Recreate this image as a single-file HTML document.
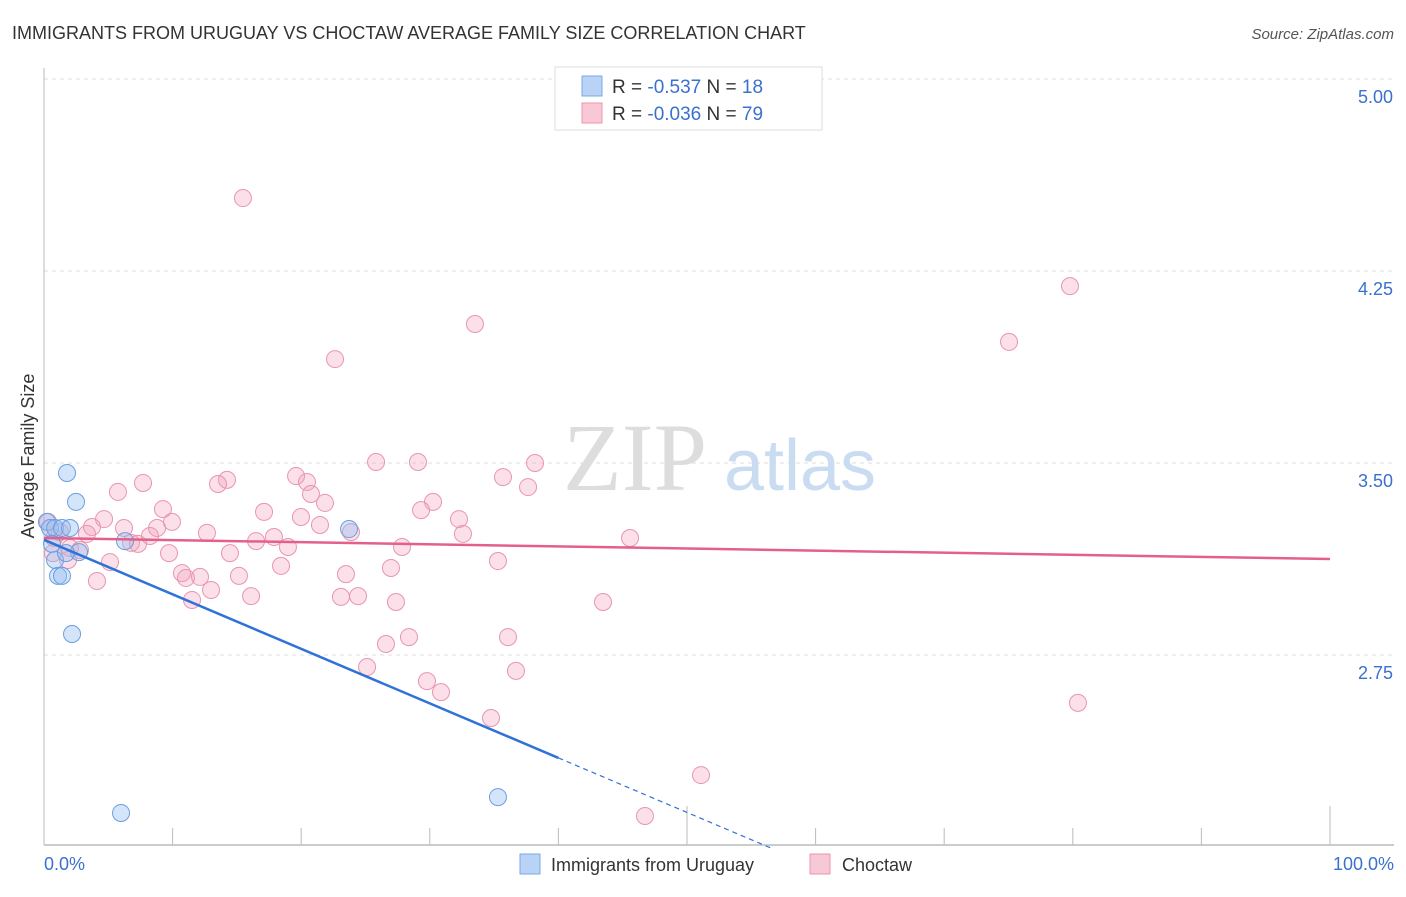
<!DOCTYPE html>
<html><head><meta charset="utf-8">
<style>
body{margin:0;background:#fff;font-family:"Liberation Sans",sans-serif;}
</style></head>
<body>
<svg width="1406" height="892" viewBox="0 0 1406 892" xmlns="http://www.w3.org/2000/svg">
<text x="12" y="39" font-size="18" fill="#333">IMMIGRANTS FROM URUGUAY VS CHOCTAW AVERAGE FAMILY SIZE CORRELATION CHART</text>
<text x="1394" y="39" font-size="15" fill="#555" font-style="italic" text-anchor="end">Source: ZipAtlas.com</text>
<g id="grid"></g>
<g>
<text x="635" y="490" font-size="96" font-family="Liberation Serif,serif" fill="#ddd" text-anchor="middle">ZIP</text>
<text x="800" y="490" font-size="72" fill="#c9dcf2" text-anchor="middle">atlas</text>
</g>
<g id="axes"></g>
<g id="pts"></g>
<g id="trends"></g>
<text transform="translate(34,456) rotate(-90)" font-size="18" fill="#333" text-anchor="middle">Average Family Size</text>
<g>
<rect x="555" y="67" width="267" height="63" fill="#fff" stroke="#ddd"/>
<rect x="582" y="76" width="20" height="20" fill="#b8d3f5" stroke="#7aa8e6"/>
<rect x="582" y="103" width="20" height="20" fill="#f9c8d6" stroke="#ea94ae"/>
<text x="612" y="93" font-size="19" fill="#333">R = <tspan fill="#3a70d0">-0.537</tspan>   N = <tspan fill="#3a70d0">18</tspan></text>
<text x="612" y="120" font-size="19" fill="#333">R = <tspan fill="#3a70d0">-0.036</tspan>   N = <tspan fill="#3a70d0">79</tspan></text>
</g>
<g>
<rect x="520" y="854" width="20" height="20" fill="#b8d3f5" stroke="#7aa8e6"/>
<text x="551" y="871" font-size="18" fill="#333">Immigrants from Uruguay</text>
<rect x="810" y="854" width="20" height="20" fill="#f9c8d6" stroke="#ea94ae"/>
<text x="842" y="871" font-size="18" fill="#333">Choctaw</text>
</g>
<script>
const yTicks=[2.75,3.50,4.25,5.00];
const yTickLabels=["2.75","3.50","4.25","5.00"];
const blueX=[0.23,0.47,0.86,1.40,0.62,0.86,1.09,1.40,1.79,2.49,2.02,2.72,2.18,1.71,6.30,5.99,23.72,35.30];
const blueY=[3.27,3.246,3.246,3.246,3.184,3.121,3.059,3.059,3.461,3.348,3.246,3.152,2.832,3.148,3.195,2.133,3.242,2.195];
const pinkX=[15.47,79.78,33.51,75.04,22.63,25.82,29.08,38.18,35.69,37.64,19.60,20.45,14.23,13.53,7.70,5.75,20.76,21.85,30.25,29.32,9.25,17.11,19.98,32.27,9.95,4.67,3.73,6.22,8.79,21.46,12.67,23.87,32.58,45.57,17.88,18.97,16.49,6.77,7.31,8.24,3.34,0.78,1.24,0.31,5.13,9.72,14.46,27.84,35.30,18.43,26.98,1.87,4.12,10.73,11.04,12.13,15.16,23.48,12.99,16.10,11.51,23.09,24.42,27.37,43.47,28.38,36.08,26.59,25.12,36.70,29.78,30.87,80.40,34.76,51.09,46.73,0.70,2.02,2.80];
const pinkY=[4.535,4.191,4.043,3.973,3.906,3.504,3.504,3.500,3.445,3.406,3.449,3.426,3.434,3.418,3.422,3.387,3.379,3.344,3.348,3.316,3.320,3.309,3.289,3.281,3.270,3.281,3.250,3.246,3.246,3.258,3.227,3.230,3.223,3.207,3.211,3.172,3.195,3.188,3.184,3.215,3.223,3.207,3.230,3.270,3.113,3.148,3.148,3.172,3.117,3.098,3.090,3.121,3.039,3.070,3.051,3.055,3.059,3.066,3.004,2.980,2.965,2.977,2.980,2.957,2.957,2.820,2.820,2.793,2.703,2.688,2.648,2.605,2.563,2.504,2.281,2.121,3.148,3.168,3.160];
const blueTrend=[3.20,-0.0213];
const pinkTrend=[3.207,-0.00082];
const NS="http://www.w3.org/2000/svg";
const xs=v=>44+v*12.86;
const ys=v=>79+(5-v)*256;
function mk(tag,attrs,parent){const e=document.createElementNS(NS,tag);for(const k in attrs)e.setAttribute(k,attrs[k]);parent.appendChild(e);return e;}
const grid=document.getElementById('grid'),axes=document.getElementById('axes'),pts=document.getElementById('pts'),tr=document.getElementById('trends');
yTicks.forEach((t,i)=>{
 const l=mk('line',{x1:44,x2:1394,y1:ys(t),y2:ys(t),stroke:'#ddd','stroke-dasharray':'4,4'},grid);
 
 
 const tx=mk('text',{x:1393,y:ys(t)+24,'font-size':18,fill:'#3a70d0','text-anchor':'end'},axes);
 tx.textContent=yTickLabels[i];
 
 
});
mk('line',{x1:44,x2:44,y1:68,y2:845,stroke:'#bbb'},axes);
mk('line',{x1:44,x2:1394,y1:845,y2:845,stroke:'#bbb','stroke-width':1.5},axes);
for(let i=0;i<=10;i++){
 const x=xs(i*10);const top=(i==5||i==10)?806:828;
 const t=mk('line',{x1:x,x2:x,y1:top,y2:845,stroke:'#bbb'},axes);
 
 
}
const xl0=mk('text',{x:44,y:870,'font-size':18,fill:'#3a70d0'},axes);xl0.textContent='0.0%';


const xl1=mk('text',{x:1394,y:870,'font-size':18,fill:'#3a70d0','text-anchor':'end'},axes);xl1.textContent='100.0%';


pinkX.forEach((x,i)=>{
 const c=mk('circle',{cx:xs(x),cy:ys(pinkY[i]),r:8.5,fill:'rgba(244,160,186,0.32)',stroke:'#e995ae','stroke-width':1},pts);
 
 
});
blueX.forEach((x,i)=>{
 const c=mk('circle',{cx:xs(x),cy:ys(blueY[i]),r:8.5,fill:'rgba(150,190,240,0.4)',stroke:'#6b9ee3','stroke-width':1},pts);
 
 
});
const p=mk('line',{x1:xs(0),y1:ys(pinkTrend[0]),x2:xs(100),y2:ys(pinkTrend[0]+pinkTrend[1]*100),stroke:'#e4608a','stroke-width':2.5},tr);


const b=mk('line',{x1:xs(0),y1:ys(blueTrend[0]),x2:xs(40),y2:ys(blueTrend[0]+blueTrend[1]*40),stroke:'#2f72d8','stroke-width':2.5},tr);


const bd=mk('line',{x1:xs(40),y1:ys(blueTrend[0]+blueTrend[1]*40),x2:xs(56.5),y2:ys(blueTrend[0]+blueTrend[1]*56.5),stroke:'#2f72d8','stroke-width':1.2,'stroke-dasharray':'5,4'},tr);


</script>
</svg>
</body></html>
